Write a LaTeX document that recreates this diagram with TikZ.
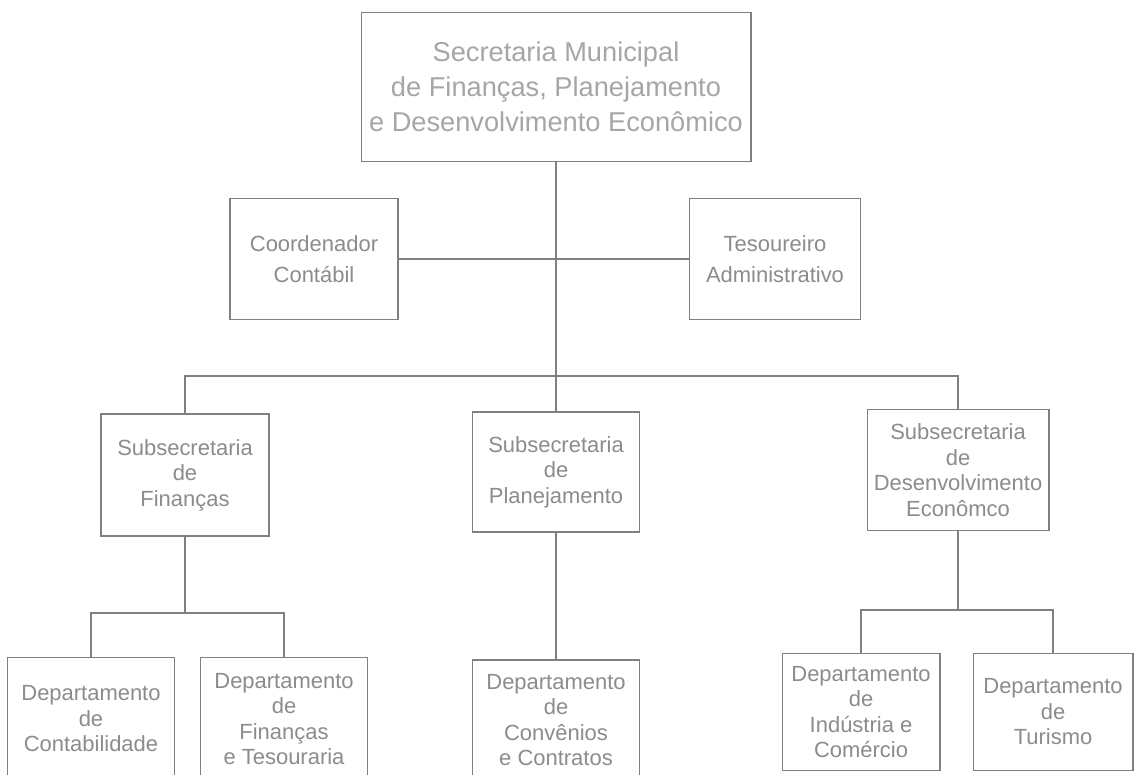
\documentclass[tikz,border=0pt]{standalone}
\usepackage{fontspec}
\setsansfont{Liberation Sans}
\tikzset{every picture/.style={/utils/exec={\sffamily}}}

\begin{document}
\begin{tikzpicture}[x=0.02cm, y=-0.02cm, line width=0.6pt,
        box/.style={draw=black!50, text=black!45, align=center, inner sep=0pt,
            font=\fontsize{12.5}{14.5}\selectfont},
        link/.style={draw=black!50}]
        \useasboundingbox[fill=white] (0,0) rectangle (1135,774);

        % Nodes
        \node[box, minimum width=7.8cm, minimum height=2.98cm, text=black!35,
            font=\fontsize{15.5}{19.9}\selectfont] (sec) at (556, 87)
            {Secretaria Municipal\\de Finanças, Planejamento\\e Desenvolvimento Econômico};
        \node[box, minimum width=3.36cm, minimum height=2.42cm,
            font=\fontsize{12.5}{17.5}\selectfont] (coord) at (314, 259) {Coordenador\\Contábil};
        \node[box, minimum width=3.42cm, minimum height=2.42cm,
            font=\fontsize{12.5}{17.5}\selectfont] (tes) at (775, 259) {Tesoureiro\\Administrativo};
        \node[box, minimum width=3.36cm, minimum height=2.44cm] (subfin) at (185, 475) {Subsecretaria\\de\\Finanças};
        \node[box, minimum width=3.34cm, minimum height=2.4cm] (subplan) at (556, 472) {Subsecretaria\\de\\Planejamento};
        \node[box, minimum width=3.64cm, minimum height=2.42cm] (subdes) at (958, 470) {Subsecretaria\\de\\Desenvolvimento\\Econômco};
        \node[box, minimum width=3.34cm, minimum height=2.46cm] (depcont) at (91, 719) {Departamento\\de\\Contabilidade};
        \node[box, minimum width=3.34cm, minimum height=2.46cm] (depfin) at (284, 719) {Departamento\\de\\Finanças\\e Tesouraria};
        \node[box, minimum width=3.34cm, minimum height=2.4cm] (depconv) at (556, 720) {Departamento\\de\\Convênios\\e Contratos};
        \node[box, minimum width=3.16cm, minimum height=2.34cm] (depind) at (861, 712) {Departamento\\de\\Indústria e\\Comércio};
        \node[box, minimum width=3.2cm, minimum height=2.34cm] (deptur) at (1053, 712) {Departamento\\de\\Turismo};

        \coordinate (bus) at (556, 376);
        \coordinate (finbar) at (185, 613);
        \coordinate (desbar) at (958, 610);

        % Edges
        \draw[link] (sec) -- (subplan);
        \draw[link] (coord) -- (tes);
        \draw[link] (subfin.north) |- (bus) -| (subdes.north);
        \draw[link] (subfin) -- (subfin.south |- finbar);
        \draw[link] (depcont.north) |- (finbar) -| (depfin.north);
        \draw[link] (subplan) -- (depconv);
        \draw[link] (subdes) -- (subdes.south |- desbar);
        \draw[link] (depind.north) |- (desbar) -| (deptur.north);
\end{tikzpicture}
\end{document}
